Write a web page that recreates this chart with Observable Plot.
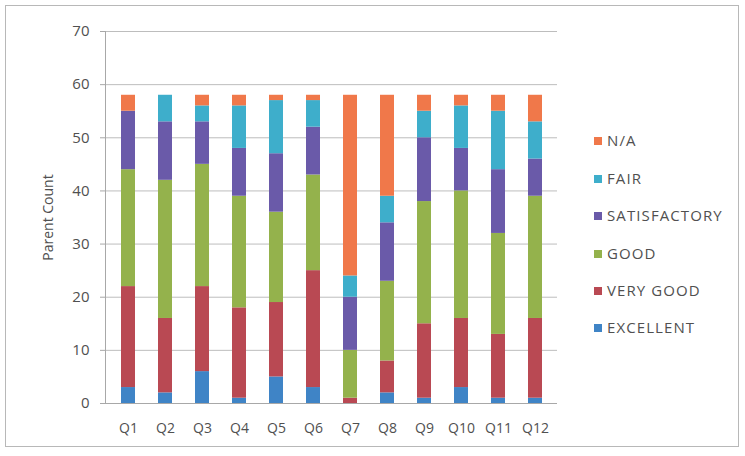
<!DOCTYPE html>
<html><head><meta charset="utf-8">
<script src="https://cdn.jsdelivr.net/npm/d3@7"></script>
<script src="https://cdn.jsdelivr.net/npm/@observablehq/plot@0.6"></script>
<style>
body{margin:0;background:#fff;}
#wrap{position:relative;width:745px;height:456px;overflow:hidden;background:#fff;}
#frame{position:absolute;left:5px;top:5px;width:732px;height:440px;border:1.5px solid #b8b8b8;box-sizing:content-box;}
#chart{position:absolute;left:0;top:0;}
#legend{position:absolute;left:594px;top:0;font-family:"Open Sans",sans-serif;font-size:15px;color:#505050;letter-spacing:1.1px;}
.item{position:absolute;left:0;white-space:nowrap;height:20px;line-height:20px;}
.sw{display:inline-block;width:8px;height:8px;margin-right:5px;vertical-align:middle;position:relative;top:-1px;}
</style></head>
<body>
<div id="wrap"><div id="frame"></div><div id="chart"></div><div id="legend"></div></div>
<script>
const questions = ["Q1","Q2","Q3","Q4","Q5","Q6","Q7","Q8","Q9","Q10","Q11","Q12"];
const categories = ["EXCELLENT","VERY GOOD","GOOD","SATISFACTORY","FAIR","N/A"];
const colors = ["#3f84c6","#b94953","#94b24c","#6a5aa9","#3eaecb","#f0784a"];
const excellent    = [3,2,6,1,5,3,0,2,1,3,1,1];
const veryGood     = [19,14,16,17,14,22,1,6,14,13,12,15];
const good         = [22,26,23,21,17,18,9,15,23,24,19,23];
const satisfactory = [11,11,8,9,11,9,10,11,12,8,12,7];
const fair         = [0,5,3,8,10,5,4,5,5,8,11,7];
const na           = [3,0,2,2,1,1,34,19,3,2,3,5];
const yTicks = [0,10,20,30,40,50,60,70];
const yLabel = "Parent Count";

const series = [excellent, veryGood, good, satisfactory, fair, na];
const data = [];
categories.forEach((c, i) => questions.forEach((q, j) => data.push({q, cat: c, value: series[i][j]})));

const chart = Plot.plot({
  width: 745, height: 456,
  marginLeft: 105, marginRight: 188, marginTop: 31, marginBottom: 53,
  style: {fontFamily: "'Open Sans', sans-serif", fontSize: "14px", color: "#505050", background: "transparent"},
  x: {domain: questions, paddingInner: 0.63, paddingOuter: 0.315, label: null},
  y: {domain: [0, 70], label: null},
  color: {domain: categories, range: colors},
  marks: [
    Plot.gridY(yTicks, {stroke: "#bdbdbd", strokeOpacity: 1}),
    Plot.barY(data, {x: "q", y: "value", fill: "cat", order: categories}),
    Plot.ruleY([0], {stroke: "#a8a8a8"}),
    Plot.frame({anchor: "left", stroke: "#a8a8a8"}),
    Plot.axisY(yTicks, {tickSize: 5, tickPadding: 11, stroke: "#a8a8a8", fontSize: 15, label: null}),
    Plot.axisY(yTicks, {tickSize: 0, text: null, label: yLabel, labelAnchor: "center", labelOffset: 62, labelArrow: "none", fontSize: 14}),
    Plot.axisX({tickSize: 0, tickPadding: 20})
  ]
});
document.getElementById("chart").appendChild(chart);

const legendY = {"N/A":140, "FAIR":178, "SATISFACTORY":215, "GOOD":253, "VERY GOOD":290, "EXCELLENT":327};
const legend = document.getElementById("legend");
categories.forEach((c, i) => {
  const d = document.createElement("div");
  d.className = "item";
  d.style.top = (legendY[c] - 10) + "px";
  d.innerHTML = `<span class="sw" style="background:${colors[i]}"></span>${c}`;
  legend.appendChild(d);
});
</script>
</body></html>
